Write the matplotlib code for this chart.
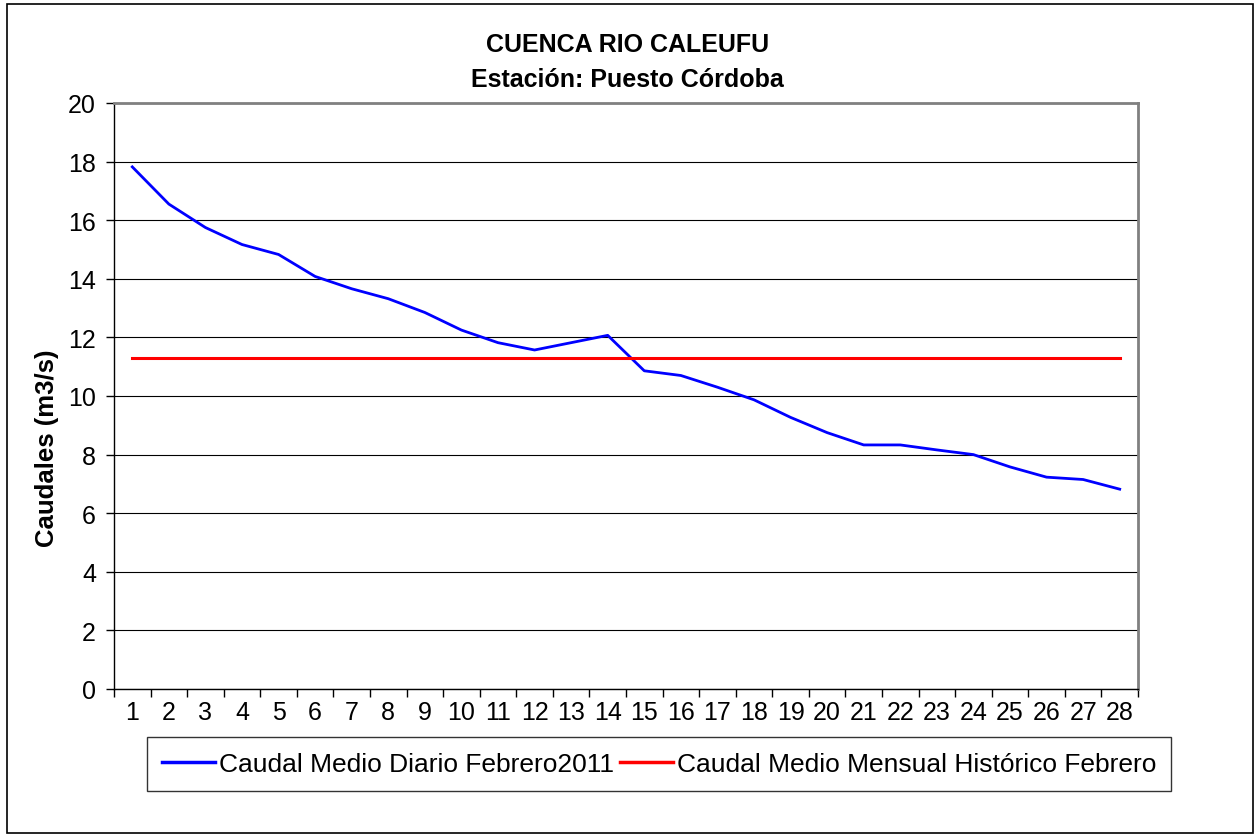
import matplotlib.pyplot as plt
from matplotlib.patches import Rectangle
from matplotlib.ticker import FixedLocator

# daily mean flow, February 2011 (m3/s)
days = list(range(1, 29))
caudal_diario = [17.82, 16.55, 15.75, 15.17, 14.83, 14.08, 13.66, 13.32, 12.85, 12.25,
                 11.82, 11.57, 11.82, 12.07, 10.86, 10.70, 10.30, 9.87, 9.27, 8.75,
                 8.33, 8.33, 8.16, 8.00, 7.58, 7.23, 7.15, 6.82]
# historic monthly mean for February
caudal_historico = [11.3] * len(days)

plt.rcParams['font.family'] = ['Liberation Sans', 'DejaVu Sans']

fig = plt.figure(figsize=(12.55, 8.37), dpi=100)
W, H = 1255, 837
ax = fig.add_axes([114 / W, 1 - 690 / H, (1138 - 114) / W, (690 - 104) / H])

ax.plot(days, caudal_diario, color='#0000ff', lw=2.0, label='Caudal Medio Diario Febrero2011')
ax.plot(days, caudal_historico, color='#ff0000', lw=2.2, label='Caudal Medio Mensual Histórico Febrero')

ax.set_xlim(0.5, 28.5)
ax.set_ylim(0, 20)
ax.set_yticks(range(0, 21, 2))
ax.set_xticks(days)
ax.set_xticklabels([str(d) for d in days])
ax.xaxis.set_minor_locator(FixedLocator([d + 0.5 for d in range(0, 29)]))
ax.tick_params(axis='x', which='major', length=0, pad=8, labelsize=18)
ax.tick_params(axis='x', which='minor', length=6, width=1, direction='out', color='black')
ax.tick_params(axis='y', length=6, width=1, direction='out', pad=7, labelsize=18)

ax.grid(axis='y', color='black', lw=0.8)
ax.set_axisbelow(True)

for s in ['top', 'right']:
    ax.spines[s].set_color('#808080')
    ax.spines[s].set_linewidth(2)
for s in ['left', 'bottom']:
    ax.spines[s].set_color('black')
    ax.spines[s].set_linewidth(1)

ax.set_ylabel('Caudales (m3/s)', fontsize=18.5, fontweight='bold')
ax.yaxis.set_label_coords(-0.054, 0.413)

fig.text(0.5, 1 - 45 / H, 'CUENCA RIO CALEUFU', ha='center', va='center',
         fontsize=18, fontweight='bold')
fig.text(0.5, 1 - 80 / H, 'Estación: Puesto Córdoba', ha='center', va='center',
         fontsize=18, fontweight='bold')

leg = fig.legend(loc='center', bbox_to_anchor=(659 / W, 1 - 765 / H), ncol=2,
                 fontsize=19, frameon=True, fancybox=False, handlelength=2.0,
                 handletextpad=0.15, columnspacing=0.25, borderpad=0.55,
                 borderaxespad=0)
leg.get_frame().set_edgecolor('black')
leg.get_frame().set_linewidth(1)
for line in leg.get_lines():
    line.set_linewidth(2.5)

# outer chart border
fig.patches.append(Rectangle((7 / W, 3 / H), (1253 - 7) / W, (832 - 3) / H,
                             transform=fig.transFigure, fill=False,
                             edgecolor='black', lw=1.2))

fig.savefig('out.png', dpi=100)
